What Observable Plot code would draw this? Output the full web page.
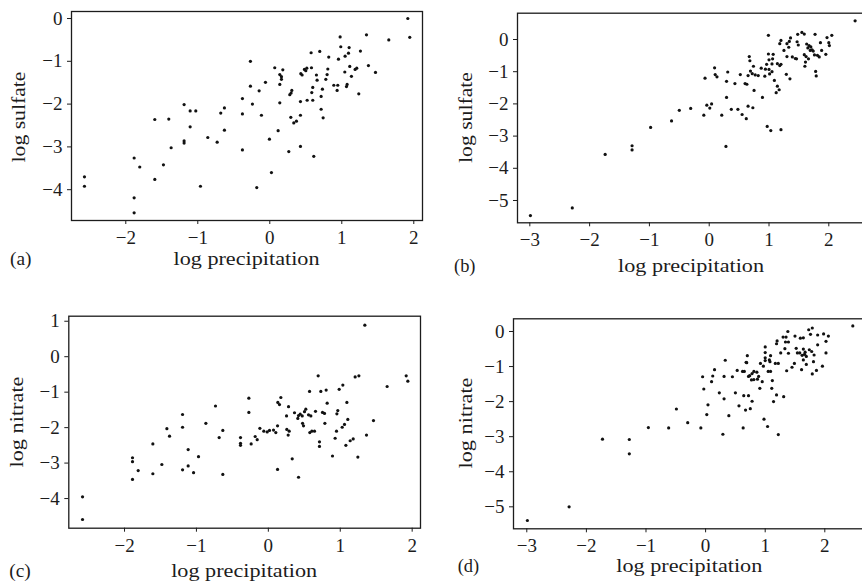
<!DOCTYPE html>
<html><head><meta charset="utf-8">
<script src="https://cdn.jsdelivr.net/npm/d3@7"></script>
<script src="https://cdn.jsdelivr.net/npm/@observablehq/plot@0.6"></script>
<style>
html,body{margin:0;padding:0;background:#fff;}
#chart{position:relative;width:862px;height:585px;overflow:hidden;background:#fff;}
#chart svg{position:absolute;}
</style></head><body><div id="chart"></div>
<script>
// (a) log precipitation vs log sulfate
const sulfateA = [
[-2.574,-3.70],[-2.574,-3.92],[-1.884,-3.26],[-1.806,-3.47],[-1.884,-4.19],[-1.884,-4.54],[-1.597,-2.36],[-1.597,-3.76],
[-1.477,-3.42],[-1.403,-2.35],[-1.370,-3.02],[-1.19,-2.01],[-1.19,-2.86],[-1.19,-2.91],[-1.106,-2.16],[-1.106,-2.53],
[-1.028,-2.16],[-0.963,-3.92],[-0.861,-2.78],[-0.731,-2.89],[-0.681,-2.21],[-0.630,-2.09],[-0.630,-2.61],[-0.380,-1.87],
[-0.380,-2.23],[-0.380,-3.07],[-0.269,-1.00],[-0.269,-1.58],[-0.241,-2.00],[-0.181,-3.95],[-0.148,-1.69],[-0.116,-2.26],
[-0.060,-1.49],[-0.005,-2.82],[0.023,-3.60],[0.069,-1.15],[0.116,-2.62],[0.139,-1.31],[0.139,-1.54],[0.139,-1.97],
[0.162,-1.36],[0.162,-1.42],[0.181,-1.20],[0.264,-3.11],[0.278,-1.78],[0.296,-1.74],[0.292,-2.31],[0.306,-1.68],
[0.333,-2.44],[0.370,-2.40],[0.426,-2.99],[0.426,-2.26],[0.426,-1.94],[0.431,-1.29],[0.449,-1.32],[0.481,-1.19],
[0.500,-1.22],[0.514,-1.16],[0.519,-1.91],[0.574,-0.80],[0.579,-1.15],[0.583,-1.73],[0.597,-1.61],[0.597,-1.91],
[0.611,-3.22],[0.648,-1.32],[0.657,-1.44],[0.694,-0.77],[0.713,-1.82],[0.713,-2.12],[0.731,-1.65],[0.741,-2.32],
[0.778,-1.42],[0.796,-1.31],[0.806,-1.18],[0.819,-0.90],[0.889,-1.56],[0.935,-1.68],[0.944,-1.56],[0.954,-0.95],
[0.977,-0.43],[0.986,-0.66],[1.042,-1.25],[1.046,-0.88],[1.065,-1.59],[1.074,-1.54],[1.093,-0.81],[1.102,-0.68],
[1.111,-1.12],[1.134,-1.35],[1.185,-1.19],[1.208,-1.16],[1.236,-1.76],[1.259,-0.76],[1.343,-0.38],[1.370,-1.10],
[1.468,-1.26],[1.653,-0.50],[1.917,0.00],[1.944,-0.44]
];
// (b) log precipitation vs log sulfate
const sulfateB = [
[-2.99,-5.47],[-2.29,-5.23],[-1.74,-3.57],[-1.29,-3.30],[-1.29,-3.43],[-0.98,-2.73],[-0.63,-2.53],[-0.50,-2.20],
[-0.31,-2.14],[-0.09,-2.35],[-0.07,-1.20],[-0.04,-2.04],[0.01,-2.13],[0.04,-2.00],[0.09,-0.88],[0.10,-1.09],
[0.13,-1.16],[0.21,-2.35],[0.29,-1.30],[0.29,-1.80],[0.28,-3.32],[0.31,-1.01],[0.37,-2.17],[0.43,-1.37],
[0.48,-2.17],[0.52,-1.09],[0.55,-2.33],[0.60,-1.37],[0.62,-2.46],[0.63,-1.39],[0.65,-1.12],[0.67,-0.53],
[0.65,-2.07],[0.68,-0.66],[0.69,-0.98],[0.72,-1.06],[0.73,-2.12],[0.74,-0.83],[0.75,-1.58],[0.77,-1.10],
[0.82,-1.12],[0.87,-0.89],[0.89,-1.80],[0.93,-1.14],[0.94,-0.92],[0.96,-0.77],[0.97,-2.70],[0.99,0.13],
[0.99,-0.45],[1.00,-0.63],[1.00,-0.93],[1.01,-1.07],[1.03,-2.83],[1.05,-1.00],[1.05,-0.76],[1.06,-0.60],
[1.07,-0.46],[1.09,-1.27],[1.12,-1.65],[1.14,-0.75],[1.14,-1.45],[1.17,-1.56],[1.18,-0.81],[1.20,-0.03],
[1.20,-0.77],[1.20,-2.80],[1.18,-0.13],[1.25,-0.34],[1.29,-1.08],[1.30,-0.13],[1.30,-0.53],[1.33,-0.24],
[1.34,-0.06],[1.35,-1.22],[1.36,0.05],[1.39,-0.54],[1.44,-0.59],[1.46,-0.60],[1.47,-0.07],[1.48,0.16],
[1.49,-0.17],[1.55,0.22],[1.59,0.17],[1.59,-0.47],[1.60,-0.83],[1.61,-0.70],[1.62,-0.53],[1.63,-0.14],
[1.65,-0.26],[1.66,-0.60],[1.67,-0.19],[1.69,-0.34],[1.70,-0.23],[1.72,-0.32],[1.74,-0.36],[1.76,-0.48],
[1.77,0.16],[1.78,-0.99],[1.79,-1.13],[1.81,-0.49],[1.84,-0.54],[1.86,-0.10],[1.88,-0.34],[1.95,-0.46],
[1.97,0.06],[2.00,-0.10],[2.01,-0.19],[2.05,0.13],[2.44,0.58]
];
// (c) log precipitation vs log nitrate
const nitrateC = [
[-2.584,-3.95],[-2.584,-4.59],[-1.889,-2.85],[-1.889,-2.96],[-1.889,-3.46],[-1.810,-3.21],[-1.606,-2.46],[-1.606,-3.30],
[-1.481,-3.04],[-1.411,-2.03],[-1.374,-2.24],[-1.193,-1.63],[-1.193,-1.99],[-1.193,-3.19],[-1.115,-2.62],[-1.115,-3.08],
[-1.040,-3.27],[-0.971,-2.82],[-0.869,-1.88],[-0.735,-1.39],[-0.684,-2.28],[-0.633,-2.08],[-0.633,-3.32],[-0.387,-2.28],
[-0.387,-2.44],[-0.387,-2.50],[-0.271,-1.17],[-0.271,-1.57],[-0.239,-2.46],[-0.183,-2.25],[-0.155,-2.34],[-0.118,-2.02],
[-0.063,-2.10],[-0.016,-2.12],[0.016,-2.08],[0.072,-2.07],[0.104,-2.14],[0.128,-1.95],[0.128,-3.18],[0.132,-1.29],
[0.155,-1.35],[0.174,-1.15],[0.253,-1.67],[0.257,-2.05],[0.276,-2.21],[0.290,-2.10],[0.281,-1.41],[0.332,-2.88],
[0.364,-1.58],[0.410,-1.74],[0.420,-1.66],[0.420,-3.40],[0.443,-1.62],[0.471,-1.67],[0.476,-1.88],[0.489,-1.95],
[0.503,-1.55],[0.521,-1.48],[0.559,-1.64],[0.573,-0.98],[0.577,-2.14],[0.591,-1.67],[0.605,-2.10],[0.642,-2.10],
[0.656,-1.54],[0.693,-0.54],[0.711,-2.40],[0.711,-2.53],[0.730,-0.98],[0.753,-1.57],[0.781,-1.60],[0.786,-1.88],
[0.804,-0.94],[0.818,-1.31],[0.892,-2.80],[0.929,-2.30],[0.948,-2.10],[0.953,-1.61],[0.966,-1.52],[0.985,-0.92],
[1.027,-1.99],[1.036,-0.80],[1.059,-1.91],[1.078,-2.50],[1.092,-1.29],[1.105,-1.77],[1.138,-2.37],[1.180,-2.32],
[1.207,-0.57],[1.245,-2.83],[1.259,-0.54],[1.342,0.89],[1.365,-2.21],[1.462,-1.80],[1.652,-0.84],[1.917,-0.54],
[1.940,-0.69]
];
// (d) log precipitation vs log nitrate
const nitrateD = [
[-2.99,-5.39],[-2.29,-5.00],[-1.73,-3.07],[-1.28,-3.08],[-1.28,-3.49],[-0.96,-2.74],[-0.62,-2.75],[-0.49,-2.21],
[-0.30,-2.60],[-0.08,-2.75],[-0.05,-1.29],[-0.03,-1.64],[0.02,-2.37],[0.04,-2.09],[0.10,-1.43],[0.12,-1.27],
[0.15,-1.09],[0.23,-1.75],[0.29,-2.93],[0.31,-1.92],[0.31,-1.28],[0.33,-0.82],[0.39,-2.40],[0.45,-1.29],
[0.50,-1.75],[0.53,-1.11],[0.56,-2.12],[0.62,-1.14],[0.63,-2.75],[0.64,-1.83],[0.65,-1.14],[0.67,-2.24],
[0.68,-0.88],[0.69,-0.89],[0.70,-0.69],[0.72,-1.28],[0.72,-1.83],[0.74,-1.26],[0.75,-2.20],[0.77,-1.38],
[0.78,-1.20],[0.78,-1.99],[0.81,-1.37],[0.81,-1.14],[0.86,-1.16],[0.87,-1.36],[0.89,-1.28],[0.91,-1.62],
[0.92,-0.91],[0.95,-1.43],[0.97,-0.99],[0.98,-2.50],[1.00,-0.44],[1.00,-0.60],[1.00,-0.75],[1.00,-0.83],
[1.04,-2.71],[1.05,-1.14],[1.07,-0.81],[1.08,-0.86],[1.09,-1.14],[1.09,-0.69],[1.11,-1.62],[1.12,-1.40],
[1.14,-2.00],[1.17,-0.91],[1.19,-1.81],[1.19,-0.35],[1.20,-0.27],[1.22,-0.91],[1.22,-2.94],[1.26,-0.61],
[1.30,-0.16],[1.31,-1.86],[1.33,-0.49],[1.34,-0.30],[1.35,-0.16],[1.36,-1.12],[1.38,0.00],[1.39,-0.30],
[1.39,-0.62],[1.45,-1.02],[1.49,-0.91],[1.50,-0.13],[1.52,-0.48],[1.54,-0.61],[1.58,-0.61],[1.59,-0.19],
[1.61,-1.09],[1.62,-0.68],[1.64,-0.50],[1.64,-0.18],[1.64,-0.81],[1.66,-0.65],[1.67,-0.59],[1.69,-0.71],
[1.69,-0.94],[1.73,0.05],[1.74,-0.52],[1.76,-0.08],[1.78,-0.57],[1.79,0.10],[1.79,-1.21],[1.81,-0.86],
[1.82,-0.67],[1.86,-1.11],[1.88,-0.10],[1.88,-0.38],[1.96,-0.99],[1.98,-0.07],[2.02,-0.61],[2.02,-0.28],
[2.06,-0.13],[2.47,0.16]
];

const xTicksAC = [-2, -1, 0, 1, 2];
const xTicksBD = [-3, -2, -1, 0, 1, 2];
const yTicksA = [0, -1, -2, -3, -4];
const yTicksB = [0, -1, -2, -3, -4, -5];
const yTicksC = [1, 0, -1, -2, -3, -4];
const yTicksD = [0, -1, -2, -3, -4, -5];
const panelTags = ["(a)", "(b)", "(c)", "(d)"];
const xLabel = "log precipitation";
const yLabels = ["log sulfate", "log sulfate", "log nitrate", "log nitrate"];

const FONT = "'Liberation Serif', 'Times New Roman', serif";
const INK = "#1c1c1c";
const fmt = d => (d < 0 ? "\u2212" : "") + Math.abs(d);

const panels = [
  {data: sulfateA, left: 0, top: 0, width: 431, height: 300, ml: 71, mt: 11, mr: 9, mb: 80,
   xd: [-2.754, 2.121], yd: [-4.72, 0.164], xt: xTicksAC, yt: yTicksA},
  {data: sulfateB, left: 431, top: 0, width: 435, height: 300, ml: 86, mt: 12.7, mr: 2, mb: 77.7,
   xd: [-3.206, 2.597], yd: [-5.693, 0.817], xt: xTicksBD, yt: yTicksB},
  {data: nitrateC, left: 0, top: 300, width: 431, height: 285, ml: 68.3, mt: 15.7, mr: 11, mb: 57.3,
   xd: [-2.775, 2.116], yd: [-4.836, 1.142], xt: xTicksAC, yt: yTicksC},
  {data: nitrateD, left: 431, top: 300, width: 435, height: 285, ml: 82, mt: 18.3, mr: 2, mb: 56.7,
   xd: [-3.223, 2.666], yd: [-5.627, 0.362], xt: xTicksBD, yt: yTicksD}
];

const chart = document.getElementById("chart");
for (const p of panels) {
  const svg = Plot.plot({
    width: p.width, height: p.height,
    marginLeft: p.ml, marginTop: p.mt, marginRight: p.mr, marginBottom: p.mb,
    x: {domain: p.xd},
    y: {domain: p.yd},
    style: {fontFamily: FONT, fontSize: "19px", color: INK, background: "transparent", overflow: "visible"},
    marks: [
      Plot.axisX(p.xt, {anchor: "bottom", tickSize: 4, tickPadding: 6, tickFormat: fmt, label: null, fontSize: 19, stroke: INK, fill: INK}),
      Plot.axisY(p.yt, {anchor: "left", tickSize: 4, tickPadding: 5, tickFormat: fmt, label: null, fontSize: 19, stroke: INK, fill: INK}),
      Plot.dot(p.data, {x: d => d[0], y: d => d[1], r: 1.6, fill: "#111", stroke: null}),
      Plot.frame({stroke: INK, strokeWidth: 1.3})
    ]
  });
  svg.style.left = p.left + "px";
  svg.style.top = p.top + "px";
  chart.appendChild(svg);
}

// overlay for axis titles and panel tags
const labelPos = [
  {tagX: 10, base: 264.5, xc: 246.5, yBase: 24.6, yc: 117},
  {tagX: 454, base: 271.5, xc: 691, yBase: 472, yc: 117.5},
  {tagX: 9.3, base: 577, xc: 244.2, yBase: 22.6, yc: 422},
  {tagX: 457.7, base: 572, xc: 689.3, yBase: 472, yc: 423}
];
const ov = d3.create("svg").attr("width", 862).attr("height", 585)
  .style("left", "0px").style("top", "0px").style("pointer-events", "none")
  .attr("font-family", FONT).attr("fill", INK).attr("font-size", 18.5);
labelPos.forEach((L, i) => {
  ov.append("text").attr("x", L.tagX).attr("y", L.base).attr("textLength", 21.5)
    .attr("lengthAdjust", "spacingAndGlyphs").text(panelTags[i]);
  ov.append("text").attr("x", L.xc).attr("y", L.base).attr("text-anchor", "middle")
    .attr("textLength", 146).attr("lengthAdjust", "spacingAndGlyphs").text(xLabel);
  ov.append("text").attr("transform", `translate(${L.yBase},${L.yc}) rotate(-90)`)
    .attr("text-anchor", "middle").attr("textLength", 91).attr("lengthAdjust", "spacingAndGlyphs")
    .text(yLabels[i]);
});
chart.appendChild(ov.node());
</script></body></html>
